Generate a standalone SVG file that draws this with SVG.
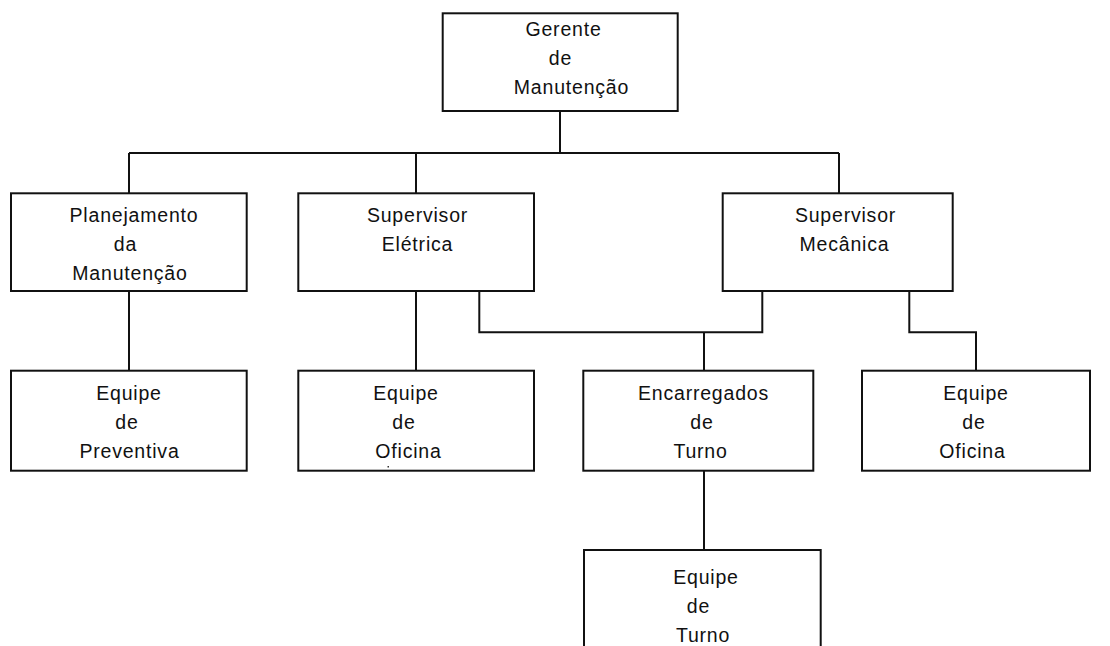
<svg xmlns="http://www.w3.org/2000/svg" width="1110" height="646" viewBox="0 0 1110 646">
  <style>
    .box { fill: #ffffff; stroke: #111111; stroke-width: 2; }
    .wire { fill: none; stroke: #111111; stroke-width: 2; }
    text { font-family: "Liberation Sans", Arial, sans-serif; font-size: 19.5px; letter-spacing: 0.8px; fill: #111111; text-anchor: middle; }
  </style>
  <rect width="1110" height="646" fill="#ffffff"/>

  <!-- connectors -->
  <g id="connectors">
    <path class="wire" d="M560 111 V153 M129 153 H839 M129 153 V193.5 M416 153 V193.5 M839 153 V193.5"/>
    <path class="wire" d="M129 291 V370.7"/>
    <path class="wire" d="M416 291 V370.7"/>
    <path class="wire" d="M479.3 291 V332.3 H762.3 V291 M704 332.3 V370.7"/>
    <path class="wire" d="M909.3 291 V332.3 H976 V370.7"/>
    <path class="wire" d="M704 470.7 V550"/>
  </g>

  <!-- level 0 -->
  <g id="gerente">
    <rect class="box" x="442.7" y="13.3" width="235" height="97.7"/>
    <text x="563.5" y="36">Gerente</text>
    <text x="560.5" y="65">de</text>
    <text x="571.5" y="94">Manutenção</text>
  </g>

  <!-- level 1 -->
  <g id="planejamento">
    <rect class="box" x="11" y="193.3" width="235.7" height="97.7"/>
    <text x="134" y="222">Planejamento</text>
    <text x="125.5" y="251">da</text>
    <text x="130" y="280">Manutenção</text>
  </g>
  <g id="sup-eletrica">
    <rect class="box" x="298.3" y="193.3" width="235.7" height="97.7"/>
    <text x="417.5" y="222">Supervisor</text>
    <text x="417.5" y="251">Elétrica</text>
  </g>
  <g id="sup-mecanica">
    <rect class="box" x="722.7" y="193.3" width="230" height="97.7"/>
    <text x="845.5" y="222">Supervisor</text>
    <text x="844.5" y="251">Mecânica</text>
  </g>

  <!-- level 2 -->
  <g id="equipe-preventiva">
    <rect class="box" x="11" y="370.7" width="235.7" height="100"/>
    <text x="129" y="400">Equipe</text>
    <text x="127" y="429">de</text>
    <text x="129.5" y="458">Preventiva</text>
  </g>
  <g id="equipe-oficina-eletrica">
    <rect class="box" x="298.3" y="370.7" width="235.7" height="100"/>
    <text x="406" y="400">Equipe</text>
    <text x="404" y="429">de</text>
    <text x="408.5" y="458">Oficina</text>
    <rect x="387.5" y="466" width="1.5" height="1.5" fill="#333333"/>
  </g>
  <g id="encarregados">
    <rect class="box" x="583.3" y="370.7" width="230" height="100"/>
    <text x="703.5" y="400">Encarregados</text>
    <text x="702" y="429">de</text>
    <text x="700.5" y="458">Turno</text>
  </g>
  <g id="equipe-oficina-mecanica">
    <rect class="box" x="862" y="370.7" width="228" height="100"/>
    <text x="976" y="400">Equipe</text>
    <text x="974" y="429">de</text>
    <text x="972.5" y="458">Oficina</text>
  </g>

  <!-- level 3 -->
  <g id="equipe-turno">
    <rect class="box" x="584" y="550" width="236.7" height="110"/>
    <text x="706" y="584">Equipe</text>
    <text x="698.5" y="613">de</text>
    <text x="703" y="642">Turno</text>
  </g>
</svg>
